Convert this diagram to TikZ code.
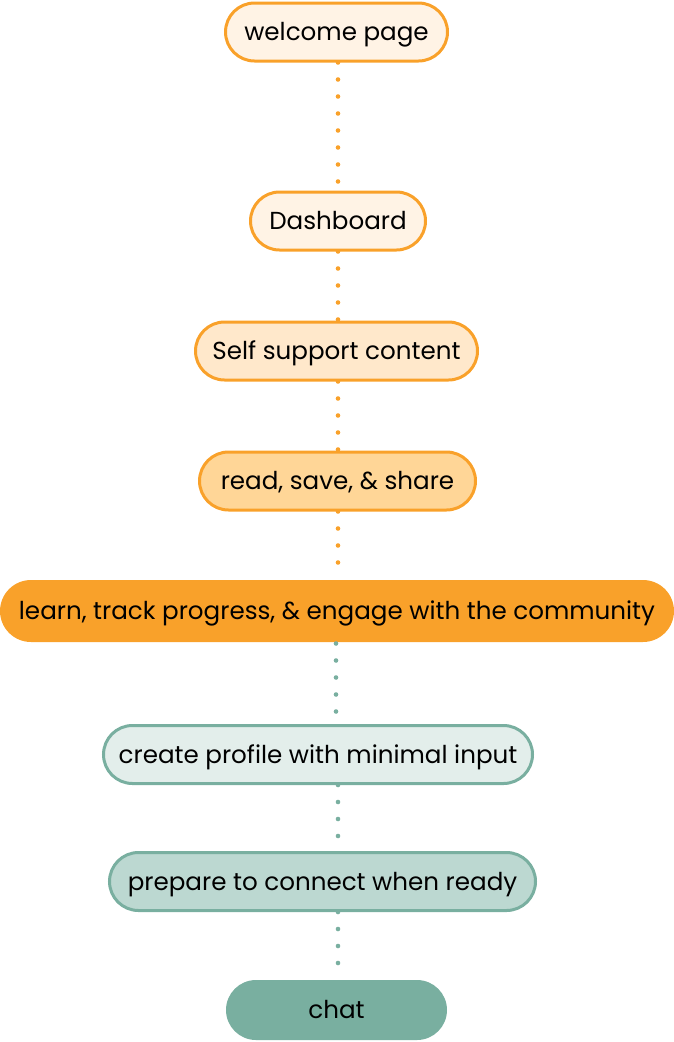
\documentclass[tikz,border=0pt]{standalone}
\usepackage{fontspec}
\setmainfont{Poppins}
\usepackage{tikz}
\usetikzlibrary{arrows.meta,positioning}
\definecolor{FlowOrange}{HTML}{F9A12A}
\definecolor{FlowTeal}{HTML}{79AFA0}
\definecolor{OrangeTintA}{HTML}{FFF3E5}
\definecolor{OrangeTintB}{HTML}{FFE8CB}
\definecolor{OrangeTintC}{HTML}{FFD697}
\definecolor{TealTintA}{HTML}{E3EEEB}
\definecolor{TealTintB}{HTML}{BCD8D1}
\tikzset{
  stage/.style={rounded corners=29pt,line width=3pt,align=center,inner sep=0pt,
    minimum height=58pt,font=\fontsize{24.6}{28}\selectfont,text=black,
    text height=19pt,text depth=2pt},
  warmstage/.style={stage,draw=FlowOrange},
  coolstage/.style={stage,draw=FlowTeal},
  warmdots/.style={draw=FlowOrange,line width=4.6pt,line cap=round,dash pattern=on 0pt off 17pt},
  cooldots/.style={warmdots,draw=FlowTeal}
}
\begin{document}
\begin{tikzpicture}[x=1pt,y=-1pt]
  \useasboundingbox (0,0) rectangle (674,1042);
  % x positions of the dotted connectors
  \coordinate (warmline) at (338,0);
  \coordinate (coolline) at (336,0);
  % orange part of the flow
  \node[warmstage,fill=OrangeTintA,minimum width=222pt] (welcome) at (336.5,32) {welcome page};
  \node[warmstage,fill=OrangeTintA,minimum width=175pt] (dashboard) at (338,221) {Dashboard};
  \node[warmstage,fill=OrangeTintB,minimum width=282pt] (selfsupport) at (336.5,351) {Self support content};
  \node[warmstage,fill=OrangeTintC,minimum width=276pt] (readsave) at (337.5,481) {read, save, \& share};
  \node[stage,fill=FlowOrange,rounded corners=31pt,minimum width=674pt,minimum height=62pt]
    (learn) at (337,611) {learn, track progress, \& engage with the community};
  % teal part of the flow
  \node[coolstage,fill=TealTintA,minimum width=429pt] (profile) at (318,754.5) {create profile with minimal input};
  \node[coolstage,fill=TealTintB,minimum width=426pt] (prepare) at (322.5,881.5) {prepare to connect when ready};
  \node[stage,fill=FlowTeal,rounded corners=30pt,minimum width=221pt,minimum height=60pt]
    (chat) at (336.5,1010) {chat};

  \draw[warmdots] (warmline |- welcome.south) -- (warmline |- dashboard.north);
  \draw[warmdots] (warmline |- dashboard.south) -- (warmline |- selfsupport.north);
  \draw[warmdots] (warmline |- selfsupport.south) -- (warmline |- readsave.north);
  \draw[warmdots] (warmline |- readsave.south) -- (warmline |- learn.north);
  \draw[cooldots] (coolline |- learn.south) -- (coolline |- profile.north);
  \draw[cooldots] (warmline |- profile.south) -- (warmline |- prepare.north);
  \draw[cooldots] (warmline |- prepare.south) -- (warmline |- chat.north);
\end{tikzpicture}
\end{document}
